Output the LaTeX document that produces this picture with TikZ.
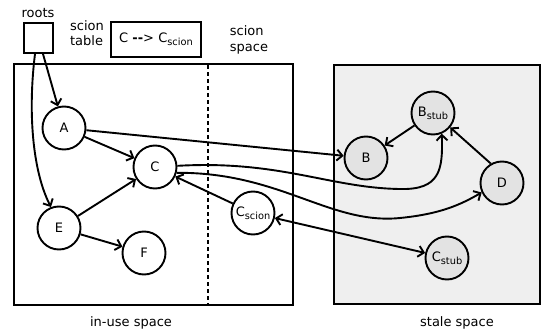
\documentclass[tikz,border=0pt]{standalone}
\usepackage{fontspec}
\setmainfont{DejaVu Sans}
\usetikzlibrary{arrows.meta}
\definecolor{stalebg}{HTML}{EFEFEF}
\definecolor{stalenode}{HTML}{E3E3E3}
\newcommand\mysub[1]{\raisebox{-0.45ex}{\fontsize{9.8}{10}\selectfont #1}}
\begin{document}
\begin{tikzpicture}[x=1pt,y=-1pt,
  font=\fontsize{13}{15.5}\selectfont,
  line width=1.9pt,
  >={Straight Barb[length=5.5pt,width=11pt]},
  obj/.style={circle,draw,minimum size=43pt,inner sep=0pt,fill=white},
  staleobj/.style={obj,fill=stalenode},
  spacebox/.style={draw,line width=1.9pt},
  lbl/.style={inner sep=0pt,align=left}]
\useasboundingbox (0,0) rectangle (542,335);
% spaces
\draw[spacebox] (14,64) rectangle (293,305);
\draw[spacebox,fill=stalebg] (334,65) rectangle (540,304);
\draw[dashed,dash pattern=on 4pt off 3pt] (208,65) -- (208,304);
% labels
\node[lbl] (lroots) at (38,13) {roots};
\node[lbl] (lscion) at (87,33) {scion\\table};
\node[lbl] (lspace) at (249,40) {scion\\space};
\node[lbl] (linuse) at (131,323) {in-use space};
\node[lbl] (lstale) at (457,323) {stale space};
% roots and table
\node[draw,minimum width=29pt,minimum height=30pt,inner sep=0pt] (roots) at (38.5,38) {};
\node[draw,minimum width=90pt,minimum height=35pt,inner sep=0pt] (table) at (156,39.5) {C \textbf{-{}-}> C\mysub{scion}};
% objects
\node[obj] (A) at (64,128) {A};
\node[obj] (C) at (155,167) {C};
\node[obj] (E) at (59,228) {E};
\node[obj] (F) at (144,253) {F};
\node[obj] (Cs) at (253,213) {C\mysub{scion}};
\node[staleobj] (Bs) at (433,113) {B\mysub{stub}};
\node[staleobj] (B) at (366,158) {B};
\node[staleobj] (D) at (502,183) {D};
\node[staleobj] (Ct) at (447,258) {C\mysub{stub}};
% connectors
\draw[->] ([xshift=4.5pt]roots.south) -- (A);
\draw[->] ([xshift=-3.5pt]roots.south) .. controls (28,110) and (32,170) .. (E.111);
\draw[->] (A) -- (C);
\draw[->] (A) -- (B);
\draw[->] (E) -- (C);
\draw[->] (E) -- (F);
\draw[->] (Cs) -- (C);
\draw[->] (C.3) .. controls (280,160) and (330,188) .. (400,189) .. controls (440,190) and (443,170) .. (Bs.-67);
\draw[->] (C.-15) .. controls (280,172) and (330,225) .. (400,218) .. controls (440,214) and (460,205) .. (D.205);
\draw[<->] (Cs) -- (Ct);
\draw[->] (D.120) -- (Bs.-40);
\draw[->] (Bs) -- (B);
\end{tikzpicture}
\end{document}
